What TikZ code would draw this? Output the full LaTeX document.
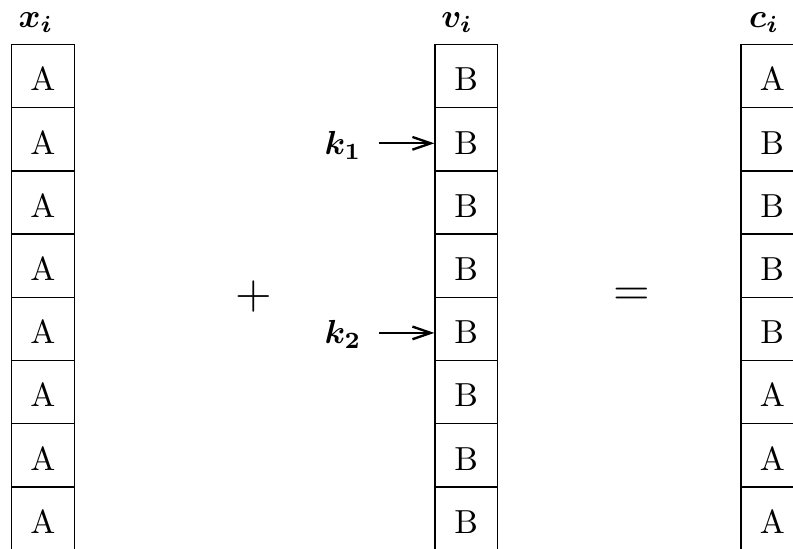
\documentclass[tikz,border=0pt]{standalone}
\usepackage{amsmath}
\usetikzlibrary{arrows.meta,calc}
\begin{document}
\begin{tikzpicture}[x=0.3pt,y=-0.3pt,
  cell/.style={draw,line width=0.4pt,minimum width=18.75pt,minimum height=18.96pt,
    inner sep=0pt,text height=8.9pt,text depth=0pt,font=\fontsize{10}{12}\selectfont},
  lab/.style={anchor=base,inner sep=0pt,font=\fontsize{10}{12}\selectfont},
  op/.style={inner sep=0pt,font=\fontsize{14.4}{17}\selectfont},
  arr/.style={line width=0.7pt,-{Straight Barb[length=5.5pt,width=3.8pt,line width=0.7pt]}}]
\useasboundingbox (0,0) rectangle (793,548);
\clip (0,0) rectangle (793,548);
% columns
\foreach \i/\ct in {1/A,2/B,3/B,4/B,5/B,6/A,7/A,8/A}{
  \node[cell] (x\i) at (42.95,{44.5+63.2*(\i-0.5)}) {A};
  \node[cell] (v\i) at (466.25,{44.5+63.2*(\i-0.5)}) {B};
  \node[cell] (c\i) at (772.25,{44.5+63.2*(\i-0.5)}) {\ct};
}
% headers
\node[lab] (xl) at (36,27) {$\boldsymbol{x_i}$};
\node[lab] (vl) at (457,27) {$\boldsymbol{v_i}$};
\node[lab] (cl) at (764,27) {$\boldsymbol{c_i}$};
% keys
\node[lab] (k1) at (343,154) {$\boldsymbol{k_1}$};
\node[lab] (k2) at (343,343.5) {$\boldsymbol{k_2}$};
\draw[arr] ($(v2.west)+(-55,4)$) -- ($(v2.west)+(0,4)$);
\draw[arr] ($(v5.west)+(-55,4)$) -- ($(v5.west)+(0,4)$);
% operators
\node[op] (plus) at (253.5,296.5) {$+$};
\node[op] (eq) at (632,296.7) {$=$};
\end{tikzpicture}
\end{document}
